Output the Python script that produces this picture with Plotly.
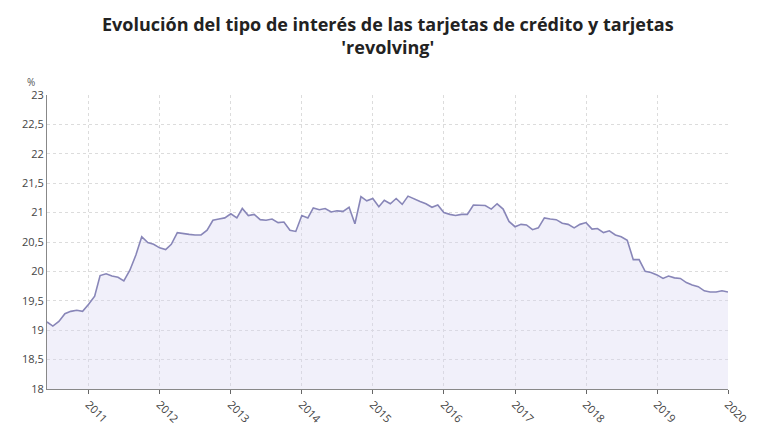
import pandas as pd
import plotly.graph_objects as go

# monthly rate, Jun 2010 - Jan 2020
months = pd.date_range("2010-06-01", "2020-01-01", freq="MS")
rates = [
    19.14, 19.07, 19.15, 19.28, 19.32, 19.34, 19.32,
    19.44, 19.58, 19.93, 19.96, 19.92, 19.90, 19.84, 20.02, 20.28, 20.59, 20.49, 20.46,
    20.40, 20.37, 20.46, 20.66, 20.64, 20.63, 20.62, 20.62, 20.70, 20.87, 20.89, 20.91,
    20.98, 20.91, 21.07, 20.95, 20.97, 20.88, 20.87, 20.89, 20.83, 20.84, 20.70, 20.68,
    20.95, 20.91, 21.08, 21.05, 21.07, 21.01, 21.03, 21.02, 21.09, 20.81, 21.27, 21.20,
    21.24, 21.10, 21.21, 21.15, 21.24, 21.14, 21.28, 21.23, 21.19, 21.15, 21.09, 21.13,
    21.00, 20.97, 20.95, 20.97, 20.97, 21.13, 21.12, 21.12, 21.06, 21.15, 21.06, 20.85,
    20.76, 20.80, 20.79, 20.71, 20.74, 20.91, 20.89, 20.88, 20.82, 20.80, 20.74, 20.80,
    20.83, 20.72, 20.73, 20.66, 20.69, 20.62, 20.59, 20.53, 20.20, 20.20, 20.00, 19.98,
    19.94, 19.88, 19.92, 19.89, 19.88, 19.81, 19.77, 19.74, 19.67, 19.65, 19.65, 19.67,
    19.65,
]
years = [str(y) for y in range(2011, 2021)]
y_ticks = [18, 18.5, 19, 19.5, 20, 20.5, 21, 21.5, 22, 22.5, 23]
y_labels = ["18", "18,5", "19", "19,5", "20", "20,5", "21", "21,5", "22", "22,5", "23"]
title = "<b>Evolución del tipo de interés de las tarjetas de crédito y tarjetas<br>'revolving'</b>"

fig = go.Figure()
fig.add_trace(go.Scatter(
    x=months, y=rates, mode="lines",
    line=dict(color="#8886b8", width=1.6),
    fill="tozeroy", fillcolor="rgba(215,212,240,0.35)",
    hoverinfo="x+y"))

fig.update_layout(
    width=780, height=440,
    margin=dict(l=39, r=60, t=87, b=59),
    plot_bgcolor="white", paper_bgcolor="white",
    font=dict(family="Open Sans", color="#444", size=11),
    showlegend=False,
    xaxis=dict(
        range=[months[0], months[-1]],
        tickvals=[pd.Timestamp(f"{y}-01-01") for y in years], ticktext=years,
        tickangle=45, ticks="outside", ticklen=4, tickcolor="#666",
        showgrid=True, gridcolor="#dcdcdc", griddash="dot",
        showline=True, linecolor="#888", linewidth=1, zeroline=False),
    yaxis=dict(
        range=[18, 23], tickvals=y_ticks, ticktext=y_labels,
        showgrid=True, gridcolor="#dcdcdc", griddash="dot",
        showline=True, linecolor="#888", linewidth=1, zeroline=False),
)
fig.add_annotation(x=0.5, y=1, xref="paper", yref="paper", text=title,
                   showarrow=False, xanchor="center", yanchor="middle",
                   yshift=60, font=dict(family="Open Sans", size=18, color="#222"))
fig.add_annotation(x=0, y=1, xref="paper", yref="paper", text="%",
                   showarrow=False, xanchor="right", yanchor="bottom",
                   xshift=-10, yshift=4, font=dict(size=10, color="#555"))

fig.write_html("out.html")
